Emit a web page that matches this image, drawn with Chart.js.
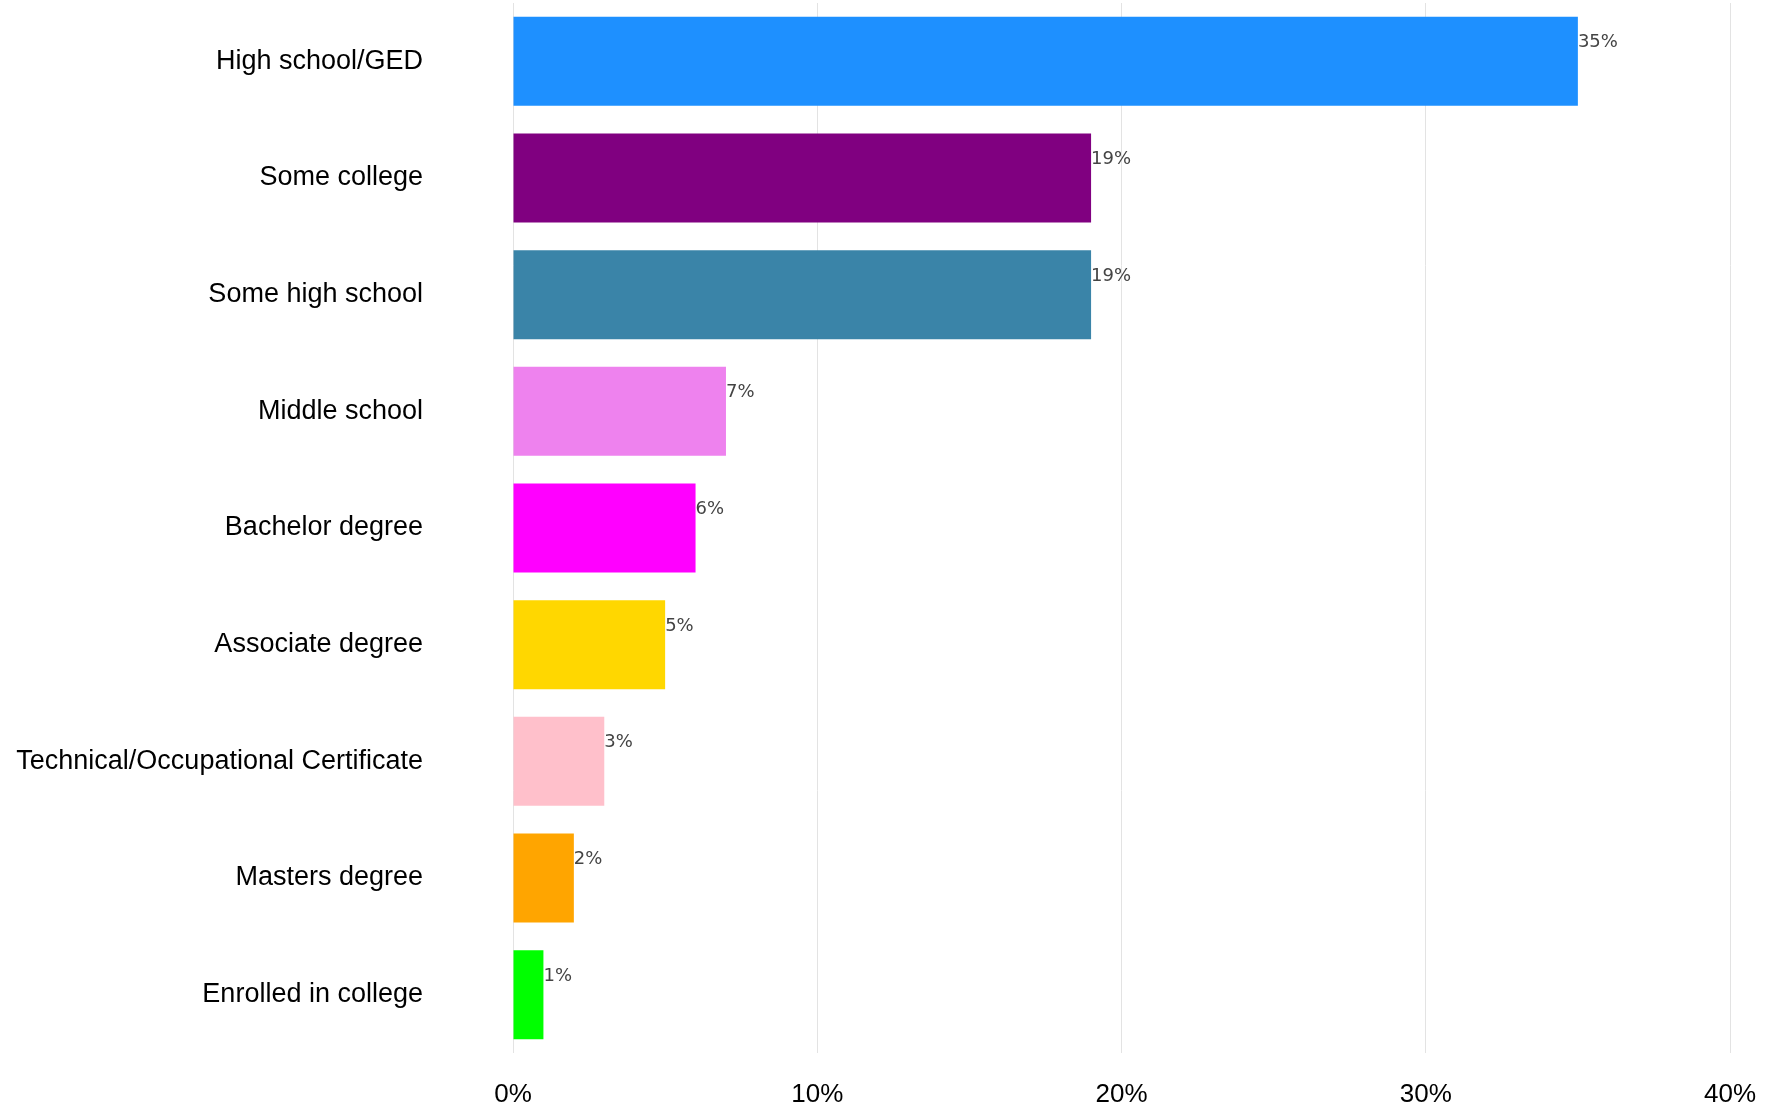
<!DOCTYPE html>
<html>
<head>
<meta charset="utf-8">
<title>Education level</title>
<script src="https://cdn.jsdelivr.net/npm/chart.js@4.4.1/dist/chart.umd.min.js"></script>
<style>
  html, body { margin: 0; padding: 0; background: #fff; }
  #wrap { width: 1768px; height: 1112px; position: relative; }
</style>
</head>
<body>
<div id="wrap"><canvas id="eduChart" width="1768" height="1112"></canvas></div>
<script>
// Share of respondents by highest level of education (%)
const LEVELS = [
  "High school/GED", "Some college", "Some high school", "Middle school",
  "Bachelor degree", "Associate degree", "Technical/Occupational Certificate",
  "Masters degree", "Enrolled in college"
];
const SHARES = [35, 19, 19, 7, 6, 5, 3, 2, 1];
const COLORS = [
  "#1e90ff", "#800080", "#3a84a8", "#ee82ee", "#ff00ff",
  "#ffd700", "#ffc0cb", "#ffa500", "#00ff00"
];
const X_TICKS = [0, 10, 20, 30, 40];

// percent text just past the end of each bar, near its top edge
const barLabels = {
  id: "barLabels",
  afterDatasetsDraw(chart) {
    const ctx = chart.ctx;
    const meta = chart.getDatasetMeta(0);
    ctx.save();
    ctx.font = "18px 'DejaVu Sans'";
    ctx.fillStyle = "#444";
    ctx.textAlign = "left";
    ctx.textBaseline = "middle";
    meta.data.forEach((bar, i) => {
      const top = bar.y - bar.height / 2;
      ctx.fillText(SHARES[i] + "%", bar.x, top + 26);
    });
    ctx.restore();
  }
};

const whiteBg = {
  id: "whiteBg",
  beforeDraw(chart) {
    const ctx = chart.ctx;
    ctx.save();
    ctx.fillStyle = "#fff";
    ctx.fillRect(0, 0, chart.width, chart.height);
    ctx.restore();
  }
};

new Chart(document.getElementById("eduChart"), {
  type: "bar",
  data: {
    labels: LEVELS,
    datasets: [{
      data: SHARES,
      backgroundColor: COLORS,
      borderWidth: 0,
      categoryPercentage: 1,
      barPercentage: 0.763
    }]
  },
  options: {
    indexAxis: "y",
    responsive: false,
    animation: false,
    layout: { padding: { top: 3, right: 38, left: 0, bottom: 0 } },
    plugins: { legend: { display: false }, tooltip: { enabled: false } },
    scales: {
      x: {
        min: 0, max: 40,
        afterBuildTicks: axis => { axis.ticks = X_TICKS.map(v => ({ value: v })); },
        // fixed axis height; tick padding should not eat into the sides
        afterFit: axis => { axis.height = 59; axis.paddingLeft = 0; axis.paddingRight = 0; },
        grid: { color: "#e3e3e3", lineWidth: 1, drawTicks: false },
        border: { display: false },
        ticks: {
          padding: 26,
          color: "#000",
          font: { family: "'Liberation Sans', Arial, sans-serif", size: 26 },
          callback: v => v + "%"
        }
      },
      y: {
        afterFit: axis => { axis.width = 513; axis.paddingTop = 0; axis.paddingBottom = 0; },
        grid: { display: false, drawTicks: false },
        border: { display: false },
        ticks: {
          padding: 90,
          color: "#000",
          font: { family: "'Liberation Sans', Arial, sans-serif", size: 27 }
        }
      }
    }
  },
  plugins: [whiteBg, barLabels]
});
</script>
</body>
</html>
